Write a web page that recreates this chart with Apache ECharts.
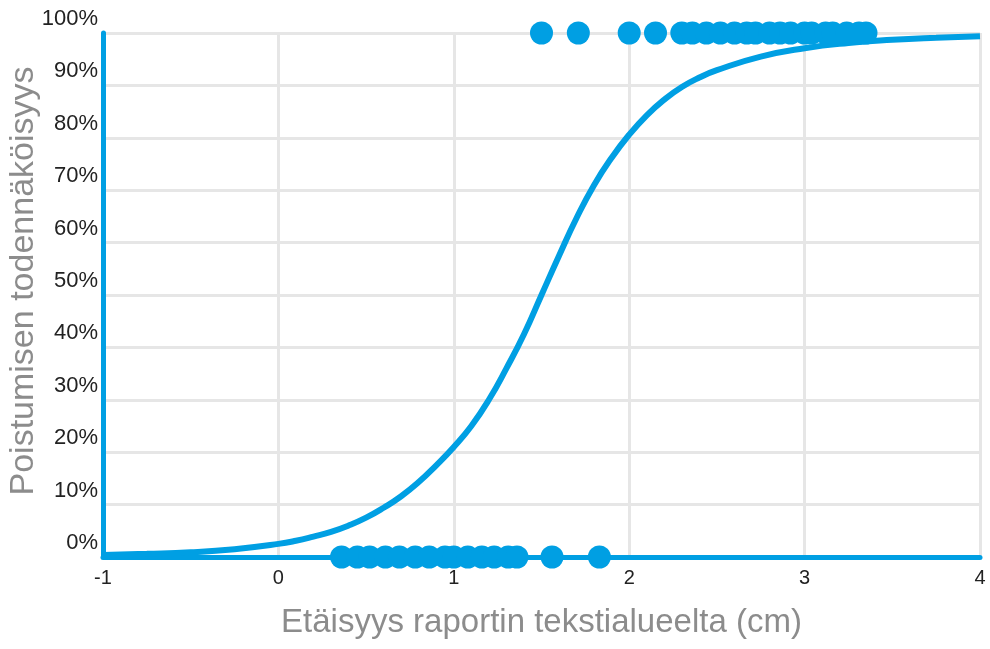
<!DOCTYPE html>
<html>
<head>
<meta charset="utf-8">
<script src="https://cdn.jsdelivr.net/npm/echarts@6/dist/echarts.min.js"></script>
<style>
  html, body { margin: 0; padding: 0; background: #fff; }
  #chart { width: 990px; height: 649px; }
</style>
</head>
<body>
<div id="chart"></div>
<script>
// Observed cases: distance (cm) of items that stayed (0) and items that were removed (1)
const stayedX = [0.36, 0.45, 0.52, 0.61, 0.69, 0.78, 0.86, 0.95, 1.00, 1.08, 1.16, 1.23, 1.31, 1.36, 1.56, 1.83];
const removedX = [1.50, 1.71, 2.00, 2.15, 2.30, 2.36, 2.44, 2.52, 2.60, 2.67, 2.72, 2.80, 2.86, 2.92, 3.00, 3.04, 3.12, 3.16, 3.24, 3.31, 3.35];

// Fitted removal probability curve
const curveX = [-1, -0.75, -0.5, -0.25, 0, 0.1, 0.2, 0.3, 0.4, 0.5, 0.6, 0.7, 0.8, 0.9, 1.0, 1.1, 1.2, 1.3, 1.4, 1.5, 1.6, 1.7, 1.8, 1.9, 2.0, 2.1, 2.2, 2.3, 2.4, 2.5, 2.75, 3.0, 3.25, 3.5, 3.75, 4.0];
const curveP = [0.004, 0.006, 0.009, 0.015, 0.025, 0.031, 0.039, 0.048, 0.060, 0.075, 0.094, 0.116, 0.143, 0.175, 0.21, 0.25, 0.30, 0.36, 0.425, 0.50, 0.575, 0.647, 0.71, 0.762, 0.806, 0.843, 0.873, 0.897, 0.915, 0.929, 0.955, 0.971, 0.981, 0.987, 0.991, 0.994];

const xTitle = 'Etäisyys raportin tekstialueelta (cm)';
const yTitle = 'Poistumisen todennäköisyys';

const BLUE = '#009fe3';
const GRID = '#e6e6e6';
const FONT = 'Arial, "Liberation Sans", sans-serif';

const chart = echarts.init(document.getElementById('chart'), null, { renderer: 'canvas' });

chart.setOption({
  animation: false,
  backgroundColor: '#ffffff',
  grid: { left: 103, right: 10, top: 33, bottom: 92, containLabel: false, outerBoundsMode: 'none' },
  xAxis: {
    type: 'value',
    min: -1, max: 4, interval: 1,
    name: xTitle,
    nameLocation: 'middle',
    nameGap: 49,
    nameMoveOverlap: false,
    nameTextStyle: { fontFamily: FONT, fontSize: 33, color: '#8c8c8c' },
    axisLine: { show: true, onZero: false, lineStyle: { color: BLUE, width: 5 } },
    axisTick: { show: false },
    axisLabel: { fontFamily: FONT, fontSize: 20, color: '#222', margin: 11 },
    splitLine: { show: true, lineStyle: { color: GRID, width: 3 } }
  },
  yAxis: {
    type: 'value',
    min: 0, max: 1, interval: 0.1,
    name: yTitle,
    nameLocation: 'middle',
    nameGap: 62,
    nameRotate: 90,
    nameMoveOverlap: false,
    nameTextStyle: { fontFamily: FONT, fontSize: 34, color: '#8c8c8c', padding: [0, 0, 0, 28] },
    axisLine: { show: true, onZero: false, lineStyle: { color: BLUE, width: 5 } },
    axisTick: { show: false },
    axisLabel: {
      fontFamily: FONT, fontSize: 22, color: '#222', margin: 5,
      verticalAlign: 'bottom',
      padding: [0, 0, 3, 0],
      formatter: v => Math.round(v * 100) + '%'
    },
    splitLine: { show: true, lineStyle: { color: GRID, width: 3 } }
  },
  series: [
    {
      name: 'curve',
      type: 'line',
      data: curveX.map((x, i) => [x, curveP[i]]),
      smooth: true,
      showSymbol: false,
      clip: false,
      lineStyle: { color: BLUE, width: 6 },
      z: 2
    },
    {
      name: 'stayed',
      type: 'scatter',
      data: stayedX.map(x => [x, 0]),
      symbol: 'circle',
      symbolSize: 23,
      clip: false,
      itemStyle: { color: BLUE, opacity: 1 },
      z: 3
    },
    {
      name: 'removed',
      type: 'scatter',
      data: removedX.map(x => [x, 1]),
      symbol: 'circle',
      symbolSize: 23,
      clip: false,
      itemStyle: { color: BLUE, opacity: 1 },
      z: 3
    }
  ]
});
</script>
</body>
</html>
